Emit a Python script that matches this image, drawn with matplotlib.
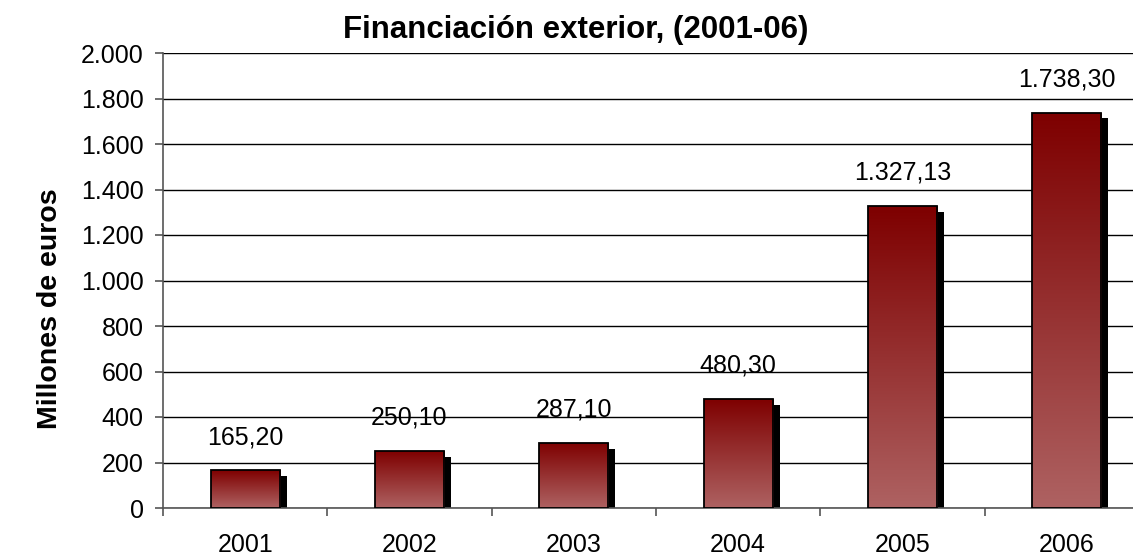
import numpy as np
import matplotlib.pyplot as plt
from matplotlib.colors import LinearSegmentedColormap
from matplotlib.patches import Rectangle

years = ["2001", "2002", "2003", "2004", "2005", "2006"]
values = [165.20, 250.10, 287.10, 480.30, 1327.13, 1738.30]
value_labels = ["165,20", "250,10", "287,10", "480,30", "1.327,13", "1.738,30"]
y_ticks = [0, 200, 400, 600, 800, 1000, 1200, 1400, 1600, 1800, 2000]
y_tick_labels = ["0", "200", "400", "600", "800", "1.000", "1.200", "1.400",
                 "1.600", "1.800", "2.000"]

plt.rcParams["font.family"] = ["Liberation Sans", "DejaVu Sans"]

fig = plt.figure(figsize=(11.33, 5.58), dpi=100)
ax = fig.add_axes([163 / 1133, 1 - 508 / 558, (1149 - 163) / 1133, 455 / 558])

x = np.arange(len(years))
width = 0.42
cmap = LinearSegmentedColormap.from_list("rojo", ["#ae6262", "#7e0000"])
grad = np.linspace(0, 1, 256).reshape(-1, 1)

for xi, v in zip(x, values):
    # sombra negra
    ax.add_patch(Rectangle((xi - width / 2 + 0.043, 0), width, v - 26,
                           facecolor="black", edgecolor="none", zorder=2))
    bar = Rectangle((xi - width / 2, 0), width, v, facecolor="none",
                    edgecolor="black", linewidth=1.3, zorder=4)
    ax.add_patch(bar)
    im = ax.imshow(grad, cmap=cmap, aspect="auto", origin="lower",
                   extent=(xi - width / 2, xi + width / 2, 0, v), zorder=3)
    im.set_clip_path(bar)

for xi, v, lab in zip(x, values, value_labels):
    ax.annotate(lab, (xi, v), xytext=(0, 24), textcoords="offset points",
                ha="center", va="center", fontsize=18)

ax.set_xlim(-0.5, len(years) - 0.5)
ax.set_ylim(0, 2000)
ax.set_yticks(y_ticks)
ax.set_yticklabels(y_tick_labels, fontsize=18)
ax.set_xticks(x)
ax.set_xticklabels(years, fontsize=18)
ax.set_xticks(np.arange(len(years) + 1) - 0.5, minor=True)
ax.tick_params(axis="x", which="major", length=0, pad=18)
ax.tick_params(axis="x", which="minor", length=6, direction="out", width=1.2,
               color="#555555")
ax.tick_params(axis="y", length=6, direction="out", width=1.2, color="#555555",
               pad=8)
ax.yaxis.grid(True, color="black", linewidth=1)
ax.set_axisbelow(True)
for s in ["top", "right"]:
    ax.spines[s].set_visible(False)
ax.spines["left"].set_color("#555555")
ax.spines["left"].set_linewidth(1.2)
ax.spines["bottom"].set_color("#555555")
ax.spines["bottom"].set_linewidth(1.2)

fig.text(576 / 1133, 1 - 30 / 558, "Financiación exterior, (2001-06)",
         ha="center", va="center", fontsize=22.5, fontweight="bold")
fig.text(50 / 1133, 1 - 309 / 558, "Millones de euros", rotation=90,
         ha="center", va="center", fontsize=20.5, fontweight="bold")

fig.savefig("out.png", dpi=100)
